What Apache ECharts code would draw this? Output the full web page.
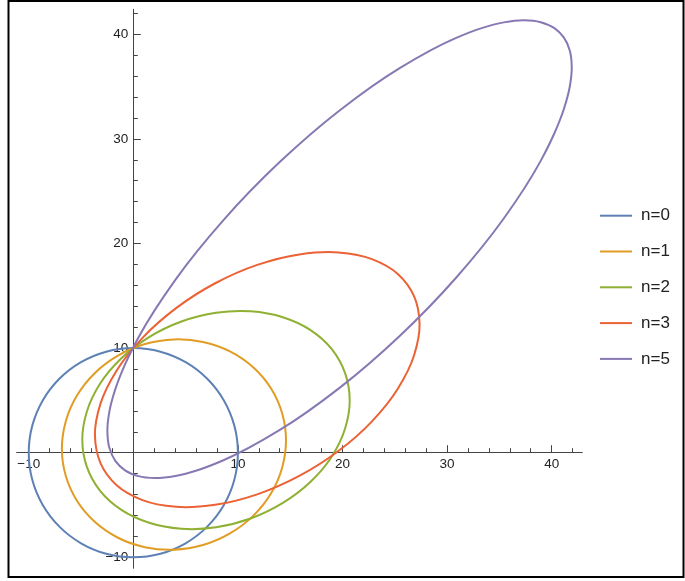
<!DOCTYPE html>
<html>
<head>
<meta charset="utf-8">
<script src="https://cdn.jsdelivr.net/npm/echarts@6/dist/echarts.min.js"></script>
<style>
  html, body { margin: 0; padding: 0; background: #fff; }
  #chart { width: 685px; height: 581px; }
</style>
</head>
<body>
<div id="chart"></div>
<script>
// Closed orbits, one per n, as [x, y] points traced around each curve.
const curveNames = ['n=0', 'n=1', 'n=2', 'n=3', 'n=5'];

const curveN0 = [
  [10, 0], [9.66, 2.59], [8.66, 5], [7.07, 7.07], [5, 8.66], [2.59, 9.66], [0, 10],
  [-2.59, 9.66], [-5, 8.66], [-7.07, 7.07], [-8.66, 5], [-9.66, 2.59], [-10, 0],
  [-9.66, -2.59], [-8.66, -5], [-7.07, -7.07], [-5, -8.66], [-2.59, -9.66], [0, -10],
  [2.59, -9.66], [5, -8.66], [7.07, -7.07], [8.66, -5], [9.66, -2.59]
];

const curveN1 = [
  [14.60, 1.18], [14.23, 3.77], [13.16, 6.16], [11.46, 8.17], [9.24, 9.69], [6.66, 10.59],
  [3.89, 10.83], [1.11, 10.39], [-1.47, 9.28], [-3.69, 7.60], [-5.39, 5.46], [-6.46, 2.99],
  [-6.83, 0.38], [-6.46, -2.21], [-5.39, -4.60], [-3.69, -6.61], [-1.47, -8.13], [1.11, -9.03],
  [3.89, -9.27], [6.66, -8.83], [9.24, -7.72], [11.46, -6.04], [13.16, -3.90], [14.23, -1.43]
];

const curveN2 = [
  [20.69, 5.02], [20.25, 7.61], [18.98, 9.90], [16.95, 11.72], [14.30, 12.95], [11.21, 13.52],
  [7.91, 13.38], [4.60, 12.54], [1.51, 11.05], [-1.14, 9.03], [-3.17, 6.61], [-4.44, 3.94],
  [-4.88, 1.23], [-4.44, -1.36], [-3.17, -3.65], [-1.14, -5.47], [1.51, -6.70], [4.60, -7.27],
  [7.91, -7.13], [11.21, -6.29], [14.30, -4.80], [16.95, -2.78], [18.98, -0.36], [20.25, 2.31]
];

const curveN3 = [
  [27.37, 12.32], [26.84, 14.97], [25.29, 17.09], [22.82, 18.51], [19.61, 19.15], [15.87, 18.96],
  [11.85, 17.96], [7.83, 16.20], [4.09, 13.82], [0.88, 10.98], [-1.59, 7.86], [-3.14, 4.69],
  [-3.67, 1.66], [-3.14, -0.99], [-1.59, -3.11], [0.88, -4.53], [4.09, -5.17], [7.83, -4.98],
  [11.85, -3.98], [15.87, -2.22], [19.61, 0.16], [22.82, 3.00], [25.29, 6.12], [26.84, 9.29]
];

const curveN5 = [
  [19.72, 32.72], [13.97, 27.76], [8.62, 22.24], [4.02, 16.53], [0.49, 11.02], [-0.79, 8.45],
  [-1.72, 6.08], [-2.29, 3.93], [-2.48, 2.05], [-2.29, 0.47], [-1.72, -0.78], [-0.79, -1.69],
  [0.49, -2.24], [2.11, -2.42], [4.02, -2.22], [6.21, -1.65], [8.62, -0.72], [13.97, 2.15],
  [19.72, 6.20], [25.47, 11.16], [30.82, 16.68], [35.42, 22.39], [38.95, 27.90], [40.23, 30.47],
  [41.16, 32.84], [41.73, 34.99], [41.92, 36.87], [41.73, 38.45], [41.16, 39.70], [40.23, 40.61],
  [38.95, 41.16], [37.33, 41.34], [35.42, 41.14], [33.23, 40.57], [30.82, 39.64], [25.47, 36.77]
];

const curves = [curveN0, curveN1, curveN2, curveN3, curveN5];

// Axis ticks and labels
const xMajorTicks = [-10, 0, 10, 20, 30, 40];
const xTickLabels = [-10, 10, 20, 30, 40];
const yMajorTicks = [-10, 0, 10, 20, 30, 40];
const yTickLabels = [-10, 10, 20, 30, 40];

const palette = ['#5E81B5', '#E19C24', '#8FB032', '#EB6235', '#8778B3'];
const axisColor = '#444';
const fontFamily = '"Liberation Sans", Arial, sans-serif';

const minusSign = v => String(v).replace('-', '\u2212');

// Plot frame in pixels; both axes cross at the origin.
const gridLeft = 16.7, gridTop = 9.3, gridWidth = 565.6, gridHeight = 559;
const xMin = -11.15, xMax = 42.93, yMin = -11.05, yMax = 42.39;
const yAxisShift = -gridWidth * (0 - xMin) / (xMax - xMin);
const xAxisShift = -gridHeight * (0 - yMin) / (yMax - yMin);

function makeAxis(min, max, ticks, labels, position, offset) {
  return {
    type: 'value',
    min: min,
    max: max,
    splitNumber: 5,
    position: position,
    offset: offset,
    axisLine: { show: true, onZero: false, lineStyle: { color: axisColor, width: 1 } },
    axisTick: { show: true, inside: true, length: 7.5, customValues: ticks,
                lineStyle: { color: axisColor, width: 1 } },
    minorTick: { show: true, splitNumber: 5, length: 4.5,
                 lineStyle: { color: axisColor, width: 1 } },
    axisLabel: { show: true, customValues: labels, formatter: minusSign, margin: 5,
                 color: '#222', fontSize: 13.5, fontFamily: fontFamily },
    splitLine: { show: false },
    minorSplitLine: { show: false }
  };
}

// Smooth closed path through the mapped points, using chord-length
// weighted (Bessel) tangents so uneven point spacing stays smooth.
function closedCurvePath(p) {
  const n = p.length;
  const d = (a, b) => Math.hypot(b[0] - a[0], b[1] - a[1]);
  const tangents = p.map((pt, i) => {
    const prev = p[(i - 1 + n) % n], next = p[(i + 1) % n];
    const d0 = d(prev, pt), d1 = d(pt, next);
    const w0 = d1 / (d0 + d1), w1 = d0 / (d0 + d1);
    return [
      w0 * (pt[0] - prev[0]) / d0 + w1 * (next[0] - pt[0]) / d1,
      w0 * (pt[1] - prev[1]) / d0 + w1 * (next[1] - pt[1]) / d1
    ];
  });
  let path = 'M' + p[0][0] + ' ' + p[0][1];
  for (let i = 0; i < n; i++) {
    const a = p[i], b = p[(i + 1) % n];
    const ta = tangents[i], tb = tangents[(i + 1) % n];
    const len = d(a, b) / 3;
    path += ' C' + (a[0] + ta[0] * len) + ' ' + (a[1] + ta[1] * len) + ' '
          + (b[0] - tb[0] * len) + ' ' + (b[1] - tb[1] * len) + ' '
          + b[0] + ' ' + b[1];
  }
  return path + ' Z';
}

const chart = echarts.init(document.getElementById('chart'), null, { renderer: 'canvas' });

chart.setOption({
  animation: false,
  backgroundColor: '#fff',
  color: palette,
  grid: { left: gridLeft, top: gridTop, width: gridWidth, height: gridHeight,
          containLabel: false, outerBoundsMode: 'none' },
  xAxis: makeAxis(xMin, xMax, xMajorTicks, xTickLabels, 'bottom', xAxisShift),
  yAxis: makeAxis(yMin, yMax, yMajorTicks, yTickLabels, 'left', yAxisShift),
  legend: {
    orient: 'vertical',
    left: 600,
    top: 205.7,
    padding: 0,
    icon: 'rect',
    itemWidth: 32,
    itemHeight: 2,
    itemGap: 15.8,
    textStyle: { fontSize: 17, lineHeight: 20, color: '#222', fontFamily: fontFamily, padding: [0, 0, 0, 4] },
    data: curveNames
  },
  series: curves.map((pts, i) => ({
    name: curveNames[i],
    type: 'custom',
    coordinateSystem: 'cartesian2d',
    data: pts,
    encode: { x: 0, y: 1 },
    itemStyle: { color: palette[i] },
    z: 2 + i,
    renderItem: (params, api) => {
      if (params.dataIndex !== 0) return null;
      const mapped = pts.map(q => api.coord(q));
      return {
        type: 'path',
        shape: { pathData: closedCurvePath(mapped) },
        style: { fill: 'none', stroke: palette[i], lineWidth: 2 }
      };
    }
  })),
  graphic: [{
    type: 'rect',
    silent: true,
    z: 100,
    shape: { x: 8.5, y: 1, width: 675, height: 576 },
    style: { fill: 'none', stroke: '#000', lineWidth: 2 }
  }]
});
</script>
</body>
</html>
